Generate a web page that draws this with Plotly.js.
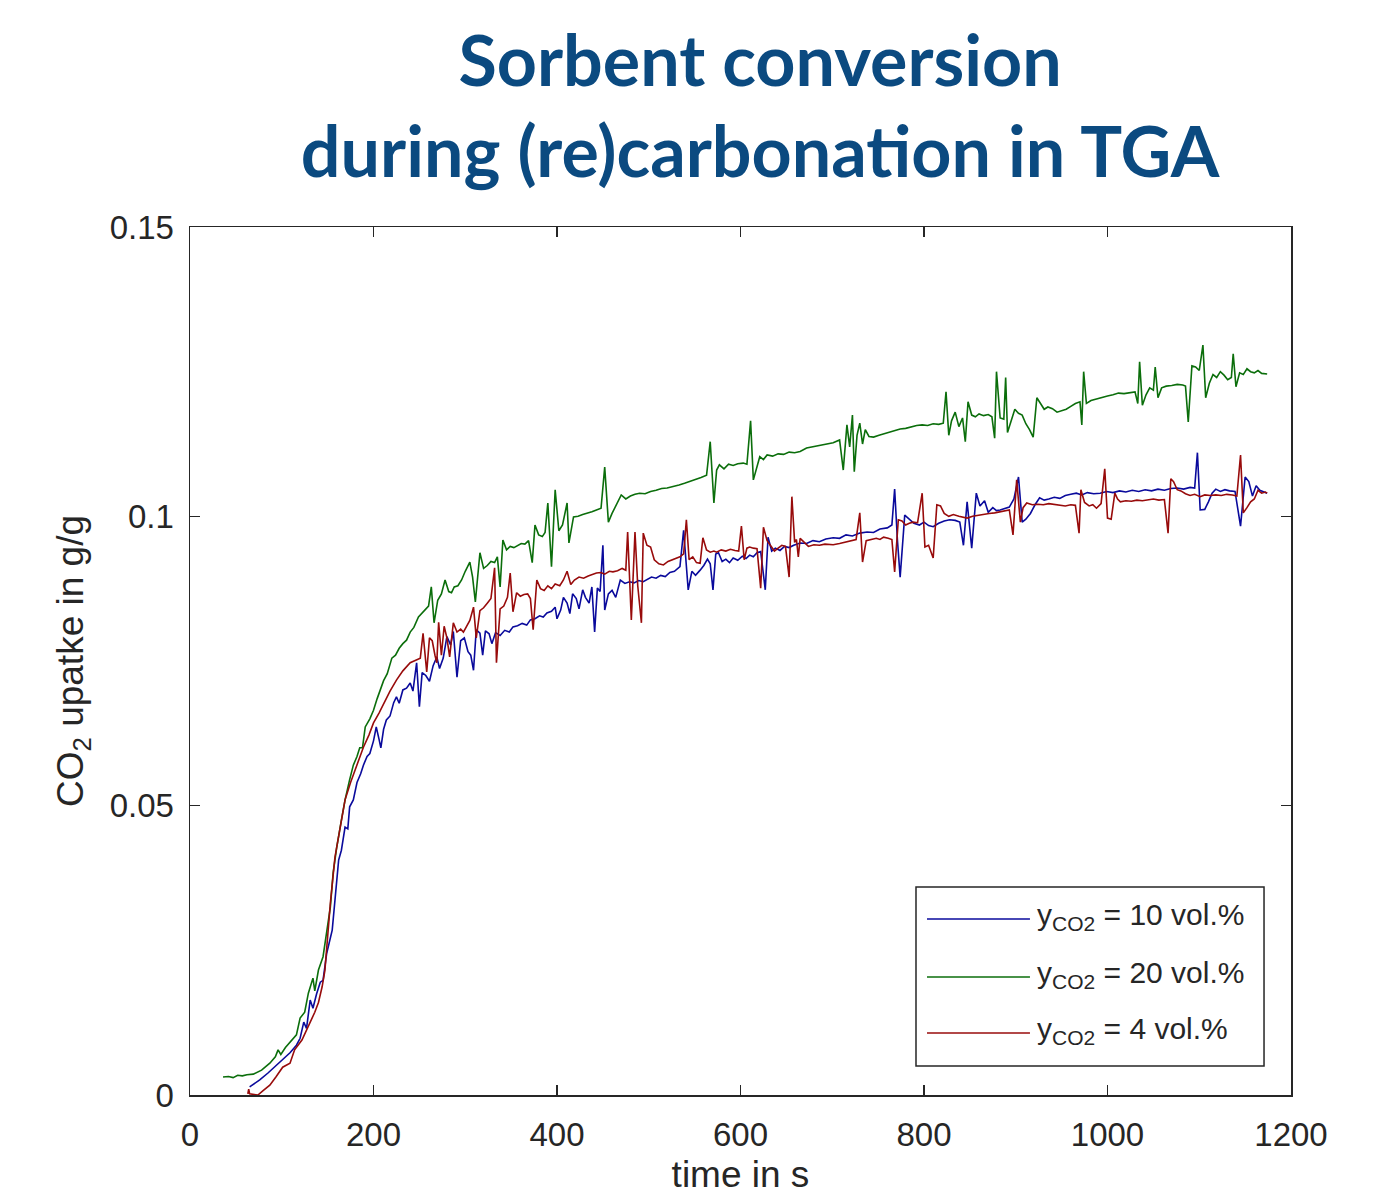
<!DOCTYPE html>
<html>
<head>
<meta charset="utf-8">
<script src="https://cdn.plot.ly/plotly-3.0.1.min.js"></script>
<style>
html,body{margin:0;padding:0;background:#fff;}
#chart{width:1377px;height:1195px;}
</style>
</head>
<body>
<div id="chart"></div>
<script>
// ---- data ----
const seriesNames = ["y<sub>CO2</sub> = 10 vol.%", "y<sub>CO2</sub> = 20 vol.%", "y<sub>CO2</sub> = 4 vol.%"];

const time10 = [65,76,85,95,109,116,120,124,127,131,134,138,142,145,149,155,158,162,165,169,172,174,178,182,186,189,193,196,200,203,206,208,211,214,218,222,225,228,232,236,240,243,247,250,253,257,261,265,269,272,276,280,284,287,291,295,299,303,306,309,312,316,319,322,326,329,333,338,343,348,352,357,362,367,371,376,381,385,389,394,398,400,404,407,411,414,417,421,424,428,431,435,438,441,444,447,450,452,456,460,464,469,474,479,484,489,494,498,503,508,513,518,523,528,534,538,543,547,551,556,560,564,567,570,573,576,580,584,588,592,597,602,606,610,614,618,622,627,630,634,638,643,648,653,658,665,672,679,686,693,701,708,715,722,730,738,745,752,760,765,768,771,774,779,784,789,795,800,805,810,816,822,828,834,839,843,847,852,857,861,866,870,875,879,883,888,893,898,903,907,911,916,921,926,931,936,942,948,954,960,966,972,978,985,992,999,1006,1013,1020,1027,1034,1041,1048,1055,1062,1069,1076,1083,1090,1095,1098,1101,1106,1110,1114,1118,1123,1128,1133,1139,1145,1150,1154,1158,1162,1166,1170,1174];
const upt10 = [0.0014,0.0026,0.0038,0.0052,0.0073,0.0086,0.0098,0.0126,0.0115,0.0164,0.0150,0.0175,0.0195,0.0198,0.0245,0.0285,0.0337,0.0406,0.0423,0.0463,0.0460,0.0498,0.0510,0.0540,0.0555,0.0570,0.0585,0.0590,0.0612,0.0636,0.0615,0.0600,0.0632,0.0648,0.0655,0.0678,0.0688,0.0677,0.0700,0.0703,0.0712,0.0698,0.0747,0.0671,0.0730,0.0725,0.0715,0.0742,0.0757,0.0737,0.0755,0.0792,0.0778,0.0801,0.0722,0.0785,0.0790,0.0766,0.0760,0.0734,0.0804,0.0798,0.0760,0.0802,0.0797,0.0780,0.0799,0.0794,0.0803,0.0800,0.0809,0.0811,0.0815,0.0812,0.0821,0.0823,0.0828,0.0826,0.0833,0.0836,0.0843,0.0823,0.0838,0.0860,0.0850,0.0832,0.0866,0.0858,0.0840,0.0873,0.0860,0.0850,0.0878,0.0800,0.0876,0.0870,0.0950,0.0838,0.0866,0.0872,0.0860,0.0890,0.0884,0.0887,0.0885,0.0889,0.0887,0.0890,0.0895,0.0893,0.0898,0.0896,0.0903,0.0905,0.0913,0.0976,0.0873,0.0905,0.0898,0.0907,0.0915,0.0926,0.0918,0.0873,0.0935,0.0937,0.0922,0.0926,0.0920,0.0928,0.0924,0.0931,0.0927,0.0933,0.0930,0.0937,0.0939,0.0873,0.0964,0.0940,0.0945,0.0941,0.0948,0.0946,0.0950,0.0954,0.0953,0.0958,0.0956,0.0961,0.0963,0.0962,0.0968,0.0966,0.0971,0.0973,0.0972,0.0978,0.0980,0.0985,0.1047,0.0960,0.0895,0.1002,0.0995,0.0988,0.0985,0.0990,0.0984,0.0982,0.0988,0.0992,0.0994,0.0993,0.0990,0.0950,0.1025,0.0945,0.1040,0.1018,0.1027,0.1007,0.1015,0.1010,0.1011,0.1013,0.1016,0.1030,0.1068,0.0990,0.0995,0.1005,0.1020,0.1032,0.1028,0.1030,0.1033,0.1031,0.1036,0.1038,0.1040,0.1037,0.1041,0.1039,0.1040,0.1043,0.1041,0.1044,0.1042,0.1045,0.1043,0.1046,0.1044,0.1047,0.1045,0.1048,0.1049,0.1047,0.1050,0.1049,0.1110,0.1011,0.1012,0.1025,0.1040,0.1047,0.1043,0.1046,0.1044,0.1043,0.0983,0.1068,0.1060,0.1035,0.1053,0.1045,0.1042,0.1040];

const time20 = [36,42,47,52,57,62,69,78,87,93,96,99,104,109,116,120,125,129,134,136,140,145,149,153,156,160,165,169,174,178,182,185,188,191,196,200,204,207,211,215,220,224,228,232,236,240,244,249,253,257,260,263,266,270,274,278,282,285,288,292,296,300,305,308,311,316,320,324,328,332,335,338,341,345,349,353,357,361,365,369,373,376,380,384,387,390,394,398,402,406,411,413,418,423,428,433,438,443,448,452,456,460,465,470,475,480,485,490,496,502,508,514,520,527,533,539,545,551,557,563,567,571,574,577,582,587,592,597,603,607,611,614,618,621,625,629,635,641,647,653,659,665,672,679,686,693,701,708,712,716,719,722,724,727,730,733,736,740,745,751,757,763,769,774,780,786,792,798,804,810,816,821,824,827,830,834,838,842,845,848,852,856,860,865,870,874,877,879,883,887,889,891,895,899,903,907,911,915,919,923,927,931,935,940,945,950,955,960,965,970,972,974,977,982,988,994,1000,1006,1012,1018,1024,1030,1033,1035,1038,1042,1046,1050,1052,1055,1059,1064,1070,1076,1082,1085,1088,1092,1096,1100,1104,1107,1111,1115,1119,1123,1127,1131,1135,1137,1140,1144,1148,1152,1156,1160,1164,1168,1174];
const upt20 = [0.0031,0.0032,0.0030,0.0034,0.0033,0.0035,0.0036,0.0043,0.0055,0.0066,0.0078,0.0070,0.0082,0.0092,0.0104,0.0133,0.0143,0.0176,0.0202,0.0180,0.0216,0.0239,0.0280,0.0325,0.0384,0.0429,0.0475,0.0510,0.0545,0.0570,0.0585,0.0600,0.0600,0.0636,0.0650,0.0665,0.0685,0.0700,0.0716,0.0728,0.0755,0.0760,0.0772,0.0780,0.0786,0.0800,0.0808,0.0826,0.0833,0.0840,0.0845,0.0878,0.0816,0.0855,0.0866,0.0890,0.0870,0.0868,0.0878,0.0880,0.0890,0.0905,0.0921,0.0895,0.0852,0.0937,0.0910,0.0915,0.0922,0.0920,0.0930,0.0878,0.0959,0.0942,0.0948,0.0946,0.0950,0.0953,0.0952,0.0958,0.0920,0.0985,0.0968,0.0965,0.0972,0.1023,0.0913,0.1046,0.0975,0.0985,0.1023,0.0954,0.0999,0.1000,0.1003,0.1005,0.1008,0.1011,0.1014,0.1085,0.0990,0.1005,0.1022,0.1037,0.1030,0.1035,0.1038,0.1040,0.1039,0.1043,0.1045,0.1048,0.1049,0.1051,0.1054,0.1057,0.1060,0.1064,0.1067,0.1071,0.1129,0.1023,0.1080,0.1089,0.1082,0.1090,0.1088,0.1091,0.1092,0.1090,0.1165,0.1063,0.1085,0.1103,0.1098,0.1106,0.1104,0.1108,0.1107,0.1111,0.1110,0.1112,0.1118,0.1120,0.1123,0.1125,0.1127,0.1132,0.1080,0.1158,0.1120,0.1175,0.1077,0.1140,0.1161,0.1125,0.1150,0.1138,0.1137,0.1140,0.1143,0.1145,0.1148,0.1151,0.1152,0.1155,0.1157,0.1158,0.1157,0.1160,0.1159,0.1161,0.1215,0.1140,0.1165,0.1180,0.1155,0.1170,0.1129,0.1198,0.1175,0.1172,0.1177,0.1174,0.1176,0.1172,0.1135,0.1250,0.1170,0.1168,0.1240,0.1145,0.1165,0.1185,0.1178,0.1175,0.1160,0.1150,0.1137,0.1205,0.1195,0.1185,0.1189,0.1186,0.1180,0.1183,0.1185,0.1190,0.1195,0.1198,0.1158,0.1250,0.1195,0.1200,0.1203,0.1205,0.1208,0.1210,0.1213,0.1212,0.1214,0.1215,0.1195,0.1267,0.1192,0.1210,0.1222,0.1218,0.1258,0.1205,0.1222,0.1225,0.1226,0.1228,0.1227,0.1225,0.1163,0.1260,0.1258,0.1252,0.1296,0.1205,0.1230,0.1245,0.1240,0.1250,0.1244,0.1236,0.1240,0.1281,0.1224,0.1248,0.1245,0.1255,0.1250,0.1248,0.1252,0.1247,0.1246];

const time4 = [63,64,65,74,80,87,94,101,109,114,122,129,136,140,144,147,149,153,158,164,169,175,182,189,195,200,206,211,218,225,232,240,246,251,254,258,261,264,267,269,271,274,277,280,283,287,291,295,298,302,305,309,312,316,320,324,328,332,334,338,342,346,349,352,356,360,364,368,371,374,378,382,386,390,394,398,403,407,411,415,419,424,429,434,438,443,448,452,457,461,466,471,475,477,481,485,488,492,494,498,502,506,511,516,521,526,530,534,538,541,544,548,552,556,559,563,567,571,574,579,584,589,594,598,601,604,607,610,614,618,622,625,629,633,637,641,645,649,653,656,659,661,663,665,669,674,680,686,692,701,708,714,720,726,730,733,737,742,748,752,756,761,765,768,772,776,780,784,788,793,798,801,805,810,814,818,822,827,832,838,843,847,853,859,865,871,877,883,888,893,897,901,905,908,912,918,924,930,936,942,948,954,960,965,969,971,975,980,984,988,993,997,1000,1004,1008,1011,1014,1020,1026,1032,1038,1044,1050,1056,1062,1066,1069,1072,1076,1080,1085,1090,1095,1101,1106,1112,1118,1124,1130,1136,1141,1145,1148,1152,1156,1160,1164,1168,1172,1174];
const upt4 = [0.0002,0.0010,0.0002,0.0000,0.0008,0.0017,0.0032,0.0048,0.0055,0.0078,0.0095,0.0118,0.0143,0.0160,0.0187,0.0215,0.0256,0.0332,0.0411,0.0463,0.0510,0.0540,0.0570,0.0601,0.0622,0.0643,0.0660,0.0677,0.0698,0.0717,0.0733,0.0747,0.0752,0.0755,0.0798,0.0731,0.0790,0.0785,0.0760,0.0747,0.0817,0.0760,0.0810,0.0790,0.0757,0.0816,0.0800,0.0805,0.0800,0.0812,0.0820,0.0843,0.0790,0.0837,0.0842,0.0850,0.0858,0.0911,0.0747,0.0840,0.0845,0.0860,0.0902,0.0835,0.0868,0.0862,0.0865,0.0866,0.0858,0.0804,0.0890,0.0875,0.0872,0.0880,0.0875,0.0883,0.0880,0.0890,0.0905,0.0882,0.0890,0.0895,0.0893,0.0897,0.0899,0.0902,0.0903,0.0900,0.0905,0.0904,0.0906,0.0910,0.0907,0.0973,0.0821,0.0973,0.0880,0.0816,0.0971,0.0950,0.0947,0.0925,0.0918,0.0916,0.0922,0.0925,0.0928,0.0930,0.0935,0.0994,0.0925,0.0930,0.0920,0.0919,0.0963,0.0942,0.0938,0.0940,0.0938,0.0942,0.0940,0.0943,0.0941,0.0940,0.0983,0.0925,0.0945,0.0947,0.0945,0.0944,0.0876,0.0981,0.0958,0.0950,0.0940,0.0945,0.0950,0.0948,0.0895,0.1034,0.0955,0.0960,0.0930,0.0962,0.0955,0.0948,0.0951,0.0950,0.0952,0.0951,0.0953,0.0955,0.0957,0.0960,0.1006,0.0921,0.0958,0.0960,0.0962,0.0960,0.0964,0.0962,0.0960,0.0904,0.0994,0.0992,0.0985,0.0988,0.0990,0.0989,0.1040,0.0947,0.0950,0.0928,0.1020,0.1018,0.1005,0.1000,0.1003,0.1000,0.0998,0.0997,0.1000,0.1002,0.1003,0.1005,0.1006,0.1008,0.1010,0.1011,0.0968,0.1063,0.0990,0.1015,0.1023,0.1020,0.1021,0.1020,0.1022,0.1021,0.1019,0.1018,0.1020,0.1019,0.0971,0.1046,0.1024,0.1018,0.1020,0.1014,0.1022,0.1082,0.0997,0.0995,0.1040,0.1030,0.1025,0.1027,0.1026,0.1028,0.1027,0.1029,0.1030,0.1028,0.1029,0.0971,0.1065,0.1060,0.1046,0.1044,0.1039,0.1036,0.1038,0.1034,0.1037,0.1036,0.1037,0.1036,0.1038,0.1037,0.1035,0.1106,0.1006,0.1015,0.1025,0.1030,0.1045,0.1040,0.1042,0.1040];

const xTickVals = [0,200,400,600,800,1000,1200];
const xTickText = ["0","200","400","600","800","1000","1200"];
const yTickVals = [0,0.05,0.1,0.15];
const yTickText = ["0","0.05","0.1","0.15"];

// ---- styling ----
const colors = ["#0a0a9c", "#0b6e0b", "#980b0b"];
const axisColor = "#262626";
const fontFam = "Arial, 'Liberation Sans', sans-serif";

const series = [[time10, upt10], [time20, upt20], [time4, upt4]];
const traces = series.map((s, i) => ({
  x: s[0], y: s[1], type: "scatter", mode: "lines",
  name: seriesNames[i], line: {color: colors[i], width: 1.6},
  showlegend: false, hoverinfo: "skip"
}));

// custom legend (MATLAB-style long line samples)
const legBox = {x0: 0.6594, x1: 0.9755, y0: 0.0334, y1: 0.2396};
const legRows = [0.2028, 0.1359, 0.0714];
const shapes = [{
  type: "rect", xref: "paper", yref: "paper",
  x0: legBox.x0, x1: legBox.x1, y0: legBox.y0, y1: legBox.y1,
  line: {color: axisColor, width: 1.5}, fillcolor: "#ffffff", layer: "above"
}];
const annotations = [];
legRows.forEach((yy, i) => {
  shapes.push({type: "line", xref: "paper", yref: "paper",
    x0: 0.6694, x1: 0.7629, y0: yy, y1: yy,
    line: {color: colors[i], width: 1.5}, layer: "above"});
  annotations.push({xref: "paper", yref: "paper", x: 0.7675, y: yy + 0.003,
    xanchor: "left", yanchor: "middle", showarrow: false,
    text: seriesNames[i], font: {family: fontFam, size: 30, color: axisColor}});
});

const layout = {
  width: 1377, height: 1195,
  margin: {l: 190, r: 86, t: 227, b: 100},
  paper_bgcolor: "#ffffff", plot_bgcolor: "#ffffff",
  title: {
    text: "Sorbent conversion<br>during (re)carbonation in TGA",
    font: {family: "Lato, 'Open Sans', sans-serif", size: 70, color: "#0b4a80", weight: 700},
    xref: "container", yref: "container", x: 0.552, xanchor: "center",
    y: 0.928, yanchor: "top"
  },
  xaxis: {
    range: [0, 1200], tickvals: xTickVals, ticktext: xTickText,
    ticks: "inside", ticklen: 10, tickwidth: 1.5, tickcolor: axisColor,
    showline: true, linecolor: axisColor, linewidth: 1.5, mirror: "ticks",
    showgrid: false, zeroline: false, ticklabelstandoff: 10,
    tickfont: {family: fontFam, size: 33, color: axisColor},
    title: {text: "time in s", font: {family: fontFam, size: 37, color: axisColor}, standoff: 13}
  },
  yaxis: {
    range: [0, 0.15], tickvals: yTickVals, ticktext: yTickText,
    ticks: "inside", ticklen: 10, tickwidth: 1.5, tickcolor: axisColor,
    showline: true, linecolor: axisColor, linewidth: 1.5, mirror: "ticks",
    showgrid: false, zeroline: false, ticklabelstandoff: 8,
    tickfont: {family: fontFam, size: 33, color: axisColor},
    title: {text: "CO<sub>2</sub> upatke in g/g", font: {family: fontFam, size: 37, color: axisColor}, standoff: 14}
  },
  shapes: shapes,
  annotations: annotations
};

Plotly.newPlot("chart", traces, layout, {displayModeBar: false, staticPlot: true});
</script>
</body>
</html>
